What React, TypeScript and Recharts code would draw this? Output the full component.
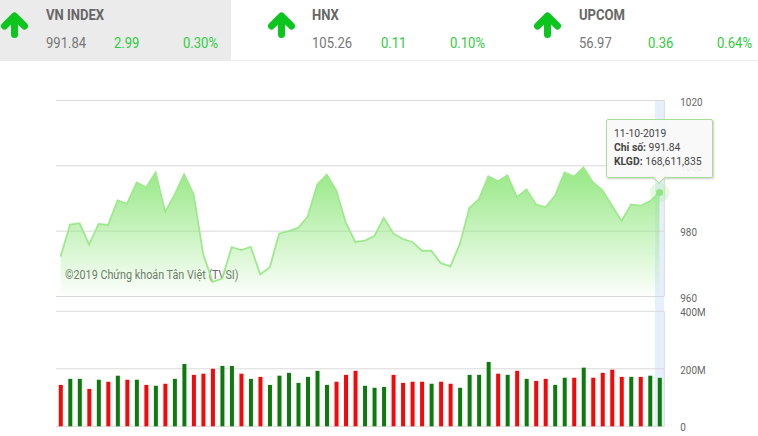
import { Area, Bar, CartesianGrid, Cell, ComposedChart, ReferenceDot, Tooltip, XAxis, YAxis } from "recharts";

// index values, one per session
const priceValues = [
  972.2, 982, 982.4, 975.9, 982.2, 981.9, 989.4, 988.4, 994.9, 993.4, 998, 985.9, 991.2, 997.4, 991.2, 973,
  964.5, 965.5, 975.1, 974.2, 975.2, 966.8, 968.9, 979.3, 980, 981, 984.5, 994.3, 997.3, 992.5, 982.6, 976.7,
  977.1, 978.5, 984.1, 979.3, 977.6, 976.7, 974, 974, 970.2, 969.2, 976.1, 987.1, 989.8, 996.8, 995.3, 997.1,
  990.4, 992.8, 988.2, 987.3, 990.8, 998, 996.7, 999.5, 994.9, 992.5, 987.8, 983.1, 988.2, 987.8, 989.2, 991.84,
];
// traded volume in millions
const volumeValues = [
  144, 165, 165, 130, 162, 155, 176, 162, 162, 144, 141, 148, 165, 217, 179, 183, 200, 210, 210, 183, 165, 172,
  144, 176, 186, 151, 172, 193, 144, 155, 179, 193, 141, 134, 137, 179, 151, 155, 155, 148, 155, 148, 134, 179,
  179, 224, 183, 179, 193, 165, 158, 165, 144, 169, 169, 204, 169, 186, 197, 172, 172, 172, 176, 168.6,
];
// bar colour per session: g = green, r = red
const volumeColors = [
  "r", "g", "g", "r", "g", "r", "g", "r", "g", "r", "g", "r", "g", "g", "r", "r", "r", "g", "g", "r", "g", "r",
  "g", "g", "g", "g", "g", "g", "g", "r", "r", "r", "g", "g", "g", "r", "r", "r", "r", "g", "r", "r", "g", "g",
  "g", "g", "r", "g", "r", "g", "r", "r", "g", "g", "r", "g", "r", "r", "r", "r", "g", "r", "g", "g",
];
const priceTicks = [960, 980, 1000, 1020];
const volumeTicks = [0, 200, 400];
const lastDate = "11-10-2019";
const lastVolumeText = "168,611,835";

const indexNames = ["VN INDEX", "HNX", "UPCOM"];
const indexLevels = ["991.84", "105.26", "56.97"];
const indexChanges = ["2.99", "0.11", "0.36"];
const indexPercents = ["0.30%", "0.10%", "0.64%"];

const rows = priceValues.map((price, i) => ({ session: i, price, volume: volumeValues[i], color: volumeColors[i] }));
const last = rows[rows.length - 1];

const FONT = "Roboto, sans-serif";
const GRID = "#d9d9d9";
const LINE_GREEN = "#9ee98e";

const arrowLefts = [1, 268, 534];
const nameLefts = [46, 312, 579];
const changeLefts = [114, 381, 648];
const percentLefts = [183, 450, 717];

// condensed look: only regular Roboto is installed
function Label({ left, top, color, bold, children }: any) {
  return (
    <div
      style={{
        position: "absolute",
        left,
        top,
        color,
        fontFamily: FONT,
        fontSize: 15,
        fontWeight: bold ? 700 : 400,
        lineHeight: "18px",
        whiteSpace: "nowrap",
        transform: "scaleX(0.87)",
        transformOrigin: "left",
      }}
    >
      {children}
    </div>
  );
}

function UpArrow({ left }: { left: number }) {
  return (
    <svg width={27} height={26} style={{ position: "absolute", left, top: 12 }}>
      <path
        d="M3.5 14 L13.5 4 L23.5 14 M13.5 5 L13.5 22.5"
        fill="none"
        stroke="#0cc61e"
        strokeWidth={7}
        strokeLinecap="round"
        strokeLinejoin="round"
      />
    </svg>
  );
}

function AxisTick({ x, y, payload, suffix }: any) {
  const text = payload.value === 0 ? "0" : `${payload.value}${suffix}`;
  return (
    <text transform={`translate(${x},${y + 5}) scale(0.86,1)`} fontFamily={FONT} fontSize={11.5} fill="#666">
      {text}
    </text>
  );
}

function PriceTooltip({ payload }: any) {
  const row = payload?.[0]?.payload ?? last;
  return (
    <div
      style={{
        position: "relative",
        boxSizing: "border-box",
        width: 107,
        height: 59,
        padding: "6px 0 0 7px",
        background: "rgba(249,249,249,0.92)",
        border: "1px solid #a5e096",
        borderRadius: 2,
        boxShadow: "1px 1px 2px rgba(0,0,0,0.2)",
        fontFamily: FONT,
        fontSize: 11.5,
        lineHeight: "14px",
        color: "#444",
        whiteSpace: "nowrap",
      }}
    >
      <div
        style={{
          position: "absolute",
          left: 47,
          top: 52,
          width: 9,
          height: 9,
          transform: "rotate(45deg)",
          background: "#f9f9f9",
          borderRight: "1px solid #a5e096",
          borderBottom: "1px solid #a5e096",
        }}
      />
      <div style={{ position: "relative", transform: "scaleX(0.9)", transformOrigin: "left" }}>
        <div>{lastDate}</div>
        <div>
          <b>Chỉ số:</b> {row.price}
        </div>
        <div>
          <b>KLGD:</b> {lastVolumeText}
        </div>
      </div>
    </div>
  );
}

function ActiveMarker({ cx, cy }: any) {
  return (
    <g>
      <circle cx={cx} cy={cy} r={10} fill={LINE_GREEN} fillOpacity={0.25} />
      <circle cx={cx} cy={cy} r={3.5} fill="#8fe67e" />
    </g>
  );
}

export default function App() {
  return (
    <div style={{ position: "absolute", left: 0, top: 0, width: 758, height: 436, background: "#fff", overflow: "hidden" }}>
      <div style={{ position: "absolute", left: 0, top: 0, width: 231, height: 60, background: "#ebebeb" }} />
      <div style={{ position: "absolute", left: 0, top: 60, width: 758, height: 1, background: "#e9e9e9" }} />
      {indexNames.map((name, i) => (
        <div key={name}>
          <UpArrow left={arrowLefts[i]} />
          <Label left={nameLefts[i]} top={6} color="#666" bold>
            {name}
          </Label>
          <Label left={nameLefts[i]} top={34} color="#777">
            {indexLevels[i]}
          </Label>
          <Label left={changeLefts[i]} top={34} color="#2ecb40">
            {indexChanges[i]}
          </Label>
          <Label left={percentLefts[i]} top={34} color="#2ecb40">
            {indexPercents[i]}
          </Label>
        </div>
      ))}

      {/* crosshair band runs through both panels, so it sits behind the two charts */}
      <div style={{ position: "absolute", left: 654.5, top: 100, width: 9.5, height: 327, background: "#e6f0fd" }} />

      <div style={{ position: "absolute", left: 0, top: 0 }}>
        <ComposedChart
          width={758}
          height={436}
          data={rows}
          margin={{ top: 311.3, right: 33.7, bottom: 9.7, left: 55.8 }}
          barCategoryGap={0}
        >
          <CartesianGrid horizontal vertical={false} stroke={GRID} />
          <XAxis dataKey="session" hide />
          <YAxis
            orientation="right"
            domain={[0, 400]}
            ticks={volumeTicks}
            width={60}
            stroke={GRID}
            tickLine={false}
            tickMargin={10}
            tick={<AxisTick suffix="M" />}
          />
          <Bar dataKey="volume" barSize={4} isAnimationActive={false}>
            {rows.map((row) => (
              <Cell key={row.session} fill={row.color === "g" ? "#0b7b0b" : "#f40808"} />
            ))}
          </Bar>
        </ComposedChart>
      </div>

      <div style={{ position: "absolute", left: 0, top: 0 }}>
        <ComposedChart
          width={758}
          height={310}
          data={rows}
          margin={{ top: 100.5, right: 33.7, bottom: 13.5, left: 55.8 }}
        >
          <defs>
            <linearGradient id="priceFill" x1="0" y1="0" x2="0" y2="1">
              <stop offset="0%" stopColor="#95e883" stopOpacity={1} />
              <stop offset="100%" stopColor="#95e883" stopOpacity={0.02} />
            </linearGradient>
          </defs>
          <CartesianGrid horizontal vertical={false} stroke={GRID} />
          <XAxis dataKey="session" scale="band" hide />
          <YAxis
            orientation="right"
            domain={[960, 1020]}
            ticks={priceTicks}
            width={60}
            stroke={GRID}
            tickLine={false}
            tickMargin={10}
            tick={<AxisTick suffix="" />}
          />
          <Area
            type="linear"
            dataKey="price"
            stroke={LINE_GREEN}
            strokeWidth={1.8}
            fill="url(#priceFill)"
            fillOpacity={1}
            dot={false}
            activeDot={false}
            isAnimationActive={false}
          />
          <ReferenceDot x={last.session} y={last.price} shape={<ActiveMarker />} />
          <text x={65} y={279} fontFamily={FONT} fontSize={12} fill="#666" transform="translate(65,279) scale(0.9,1) translate(-65,-279)">
            ©2019 Chứng khoán Tân Việt (TVSI)
          </text>
          <Tooltip
            active
            defaultIndex={rows.length - 1}
            position={{ x: 606, y: 119 }}
            allowEscapeViewBox={{ x: true, y: true }}
            cursor={false}
            content={<PriceTooltip />}
            isAnimationActive={false}
            wrapperStyle={{ outline: "none" }}
          />
        </ComposedChart>
      </div>
    </div>
  );
}
